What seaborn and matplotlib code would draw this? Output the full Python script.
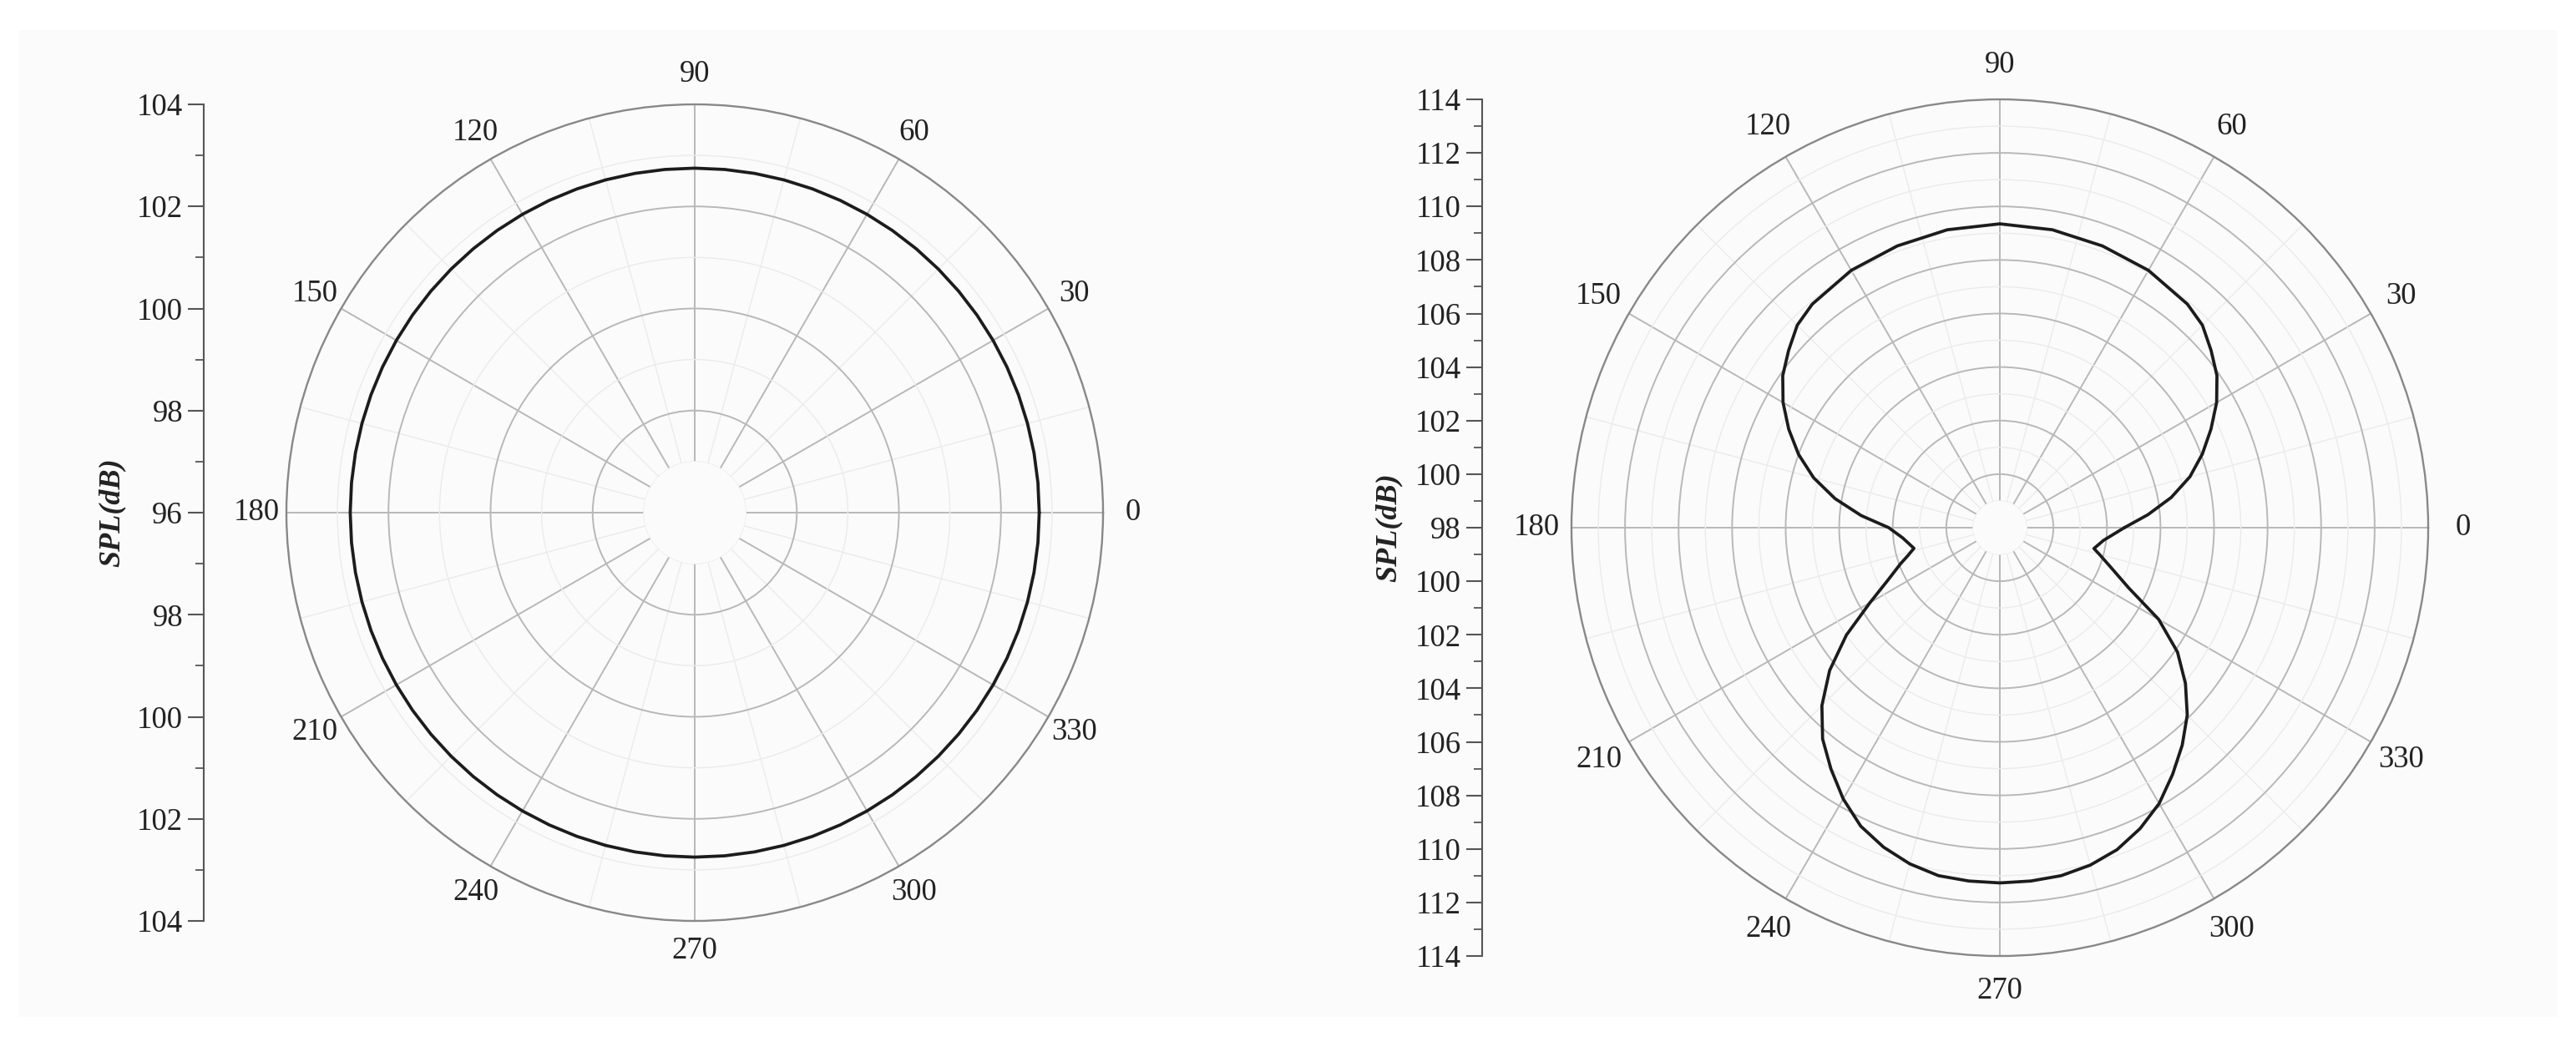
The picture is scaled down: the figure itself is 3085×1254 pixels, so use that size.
import numpy as np
import matplotlib
matplotlib.use("Agg")
import matplotlib.pyplot as plt
import seaborn as sns
from matplotlib.patches import Rectangle
from matplotlib.ticker import FixedLocator, MultipleLocator

# ---- data (angle in degrees, SPL in dB) ----
left_angles = list(range(0, 361, 5))
left_spl = [102.75, 102.75, 102.75, 102.75, 102.75, 102.75, 102.75, 102.75,
            102.75, 102.75, 102.75, 102.75, 102.75, 102.75, 102.75, 102.75,
            102.75, 102.75, 102.75, 102.75, 102.75, 102.75, 102.75, 102.75,
            102.75, 102.75, 102.75, 102.75, 102.75, 102.75, 102.75, 102.75,
            102.75, 102.75, 102.75, 102.75, 102.75, 102.75, 102.75, 102.75,
            102.75, 102.75, 102.75, 102.75, 102.75, 102.75, 102.75, 102.75,
            102.75, 102.75, 102.75, 102.75, 102.75, 102.75, 102.75, 102.75,
            102.75, 102.75, 102.75, 102.75, 102.75, 102.75, 102.75, 102.75,
            102.75, 102.75, 102.75, 102.75, 102.75, 102.75, 102.75, 102.75,
            102.75]

right_angles = [0, 5, 10, 15, 20, 25, 30, 35, 40, 45, 50, 60, 70, 80, 90,
                100, 110, 120, 130, 135, 140, 145, 150, 155, 160, 165, 170,
                175, 180, 186, 193.5, 197, 200, 205, 210, 215, 220, 225, 230,
                235, 240, 245, 250, 255, 260, 265, 270, 275, 280, 285, 290,
                295, 300, 305, 310, 315, 320, 325, 330, 335, 340, 345, 347.5,
                353, 360]
right_spl = [102.65, 103.55, 104.5, 105.35, 106.05, 106.7, 107.35, 107.9,
             108.3, 108.7, 108.9, 109.1, 109.2, 109.3, 109.35,
             109.3, 109.2, 109.1, 108.9, 108.7, 108.3, 107.9, 107.35, 106.7,
             106.0, 105.2, 104.25, 103.2, 102.15, 101.65, 101.3, 101.6,
             101.95, 102.6, 103.6, 105.0, 106.3, 107.4, 108.3, 109.0, 109.7,
             110.3, 110.7, 111.0, 111.2, 111.25, 111.27, 111.25, 111.2,
             111.05, 110.8, 110.4, 109.9, 109.25, 108.6, 107.9, 107.05,
             106.1, 104.85, 103.3, 102.45, 101.85, 101.6, 101.9, 102.65]

theta_ticks = [0, 30, 60, 90, 120, 150, 180, 210, 240, 270, 300, 330]
theta_labels = ['0', '30', '60', '90', '120', '150', '180', '210', '240',
                '270', '300', '330']
theta_minor = [15, 45, 75, 105, 135, 165, 195, 225, 255, 285, 315, 345]

left_range = (96, 104)
right_range = (98, 114)
left_scale_labels = ['104', '102', '100', '98', '96', '98', '100', '102', '104']
right_scale_labels = ['114', '112', '110', '108', '106', '104', '102', '100',
                      '98', '100', '102', '104', '106', '108', '110', '112',
                      '114']

bg = '#fbfbfb'
ink = '#222222'
curve_c = '#1c1c1c'

sns.set_style('white')
plt.rcParams['font.family'] = ['Liberation Serif', 'DejaVu Serif']

fig = plt.figure(figsize=(30.85, 12.54), dpi=100, facecolor='white')
W, H = 3085, 1254

# light grey canvas with a thin white border, as in the scanned figure
fig.patches.append(Rectangle((22 / W, 1 - 1218 / H), (3063 - 22) / W,
                             (1218 - 36) / H, transform=fig.transFigure,
                             facecolor=bg, edgecolor='none', zorder=-10))


def rect(cx, cy, r):
    return [(cx - r) / W, (H - cy - r) / H, 2 * r / W, 2 * r / H]


def draw_panel(cx, cy, R, spine_x, angles, spl, rng, scale_labels, label_x,
               pad):
    rmin, rmax = rng
    ax = fig.add_axes(rect(cx, cy, R), projection='polar')
    ax.set_facecolor(bg)
    ax.set_axisbelow(True)
    sns.lineplot(x=np.deg2rad(angles), y=spl, ax=ax, sort=False,
                 estimator=None, color=curve_c, linewidth=2.7, zorder=3)
    # blank hole in the middle (radial lines stop 1 dB from the centre)
    ax.bar(0, 1, width=2 * np.pi, bottom=rmin, color=bg, linewidth=0,
           zorder=1.5)
    ax.set_xticks(np.deg2rad(theta_ticks))
    ax.set_xticklabels(theta_labels)
    ax.xaxis.set_minor_locator(FixedLocator(np.deg2rad(theta_minor)))
    ax.set_yticks(np.arange(rmin + 2, rmax, 2))
    ax.yaxis.set_minor_locator(MultipleLocator(1))
    ax.set_yticklabels([])
    ax.grid(which='major', color='#b8b8b8', linewidth=1.4)
    ax.grid(which='minor', color='#ebebeb', linewidth=1.0)
    ax.tick_params(axis='x', which='major', length=0, pad=pad,
                   labelsize=26.5, labelcolor=ink)
    ax.tick_params(axis='x', which='minor', bottom=True, direction='in',
                   length=9, width=1.5, color='#7a7a7a')
    ax.tick_params(axis='y', which='both', length=0)
    ax.spines['polar'].set_color('#888888')
    ax.spines['polar'].set_linewidth(1.7)
    ax.set_xlabel('')
    ax.set_ylabel('')
    ax.set_ylim(rmin, rmax)

    # linear SPL scale on the left, mirrored about the centre
    span = rmax - rmin
    sx = fig.add_axes([spine_x / W, (H - cy - R) / H, 0.01, 2 * R / H])
    sx.patch.set_alpha(0)
    sx.set_xlim(0, 1)
    sx.set_ylim(-span, span)
    for s in ['top', 'right', 'bottom']:
        sx.spines[s].set_visible(False)
    sx.spines['left'].set_color('#555555')
    sx.spines['left'].set_linewidth(1.5)
    sx.set_xticks([])
    sx.yaxis.set_major_locator(FixedLocator(np.arange(span, -span - 1, -2)))
    sx.set_yticklabels(scale_labels)
    sx.yaxis.set_minor_locator(MultipleLocator(1))
    sx.tick_params(axis='y', which='major', left=True, direction='out',
                   length=14, width=1.5, color='#555555', labelsize=26.5,
                   labelcolor=ink, pad=4)
    sx.tick_params(axis='y', which='minor', left=True, direction='out',
                   length=7, width=1.3, color='#555555')
    fig.text(label_x / W, 1 - cy / H, 'SPL(dB)', rotation=90, ha='center',
             va='center', fontsize=26, fontweight='bold', fontstyle='italic',
             color=ink)


draw_panel(832, 614, 489, 244, left_angles, left_spl, left_range,
           left_scale_labels, 134, 19)
draw_panel(2395, 632, 513, 1775, right_angles, right_spl, right_range,
           right_scale_labels, 1663, 23)

fig.savefig('out.png', dpi=100, facecolor='white')
